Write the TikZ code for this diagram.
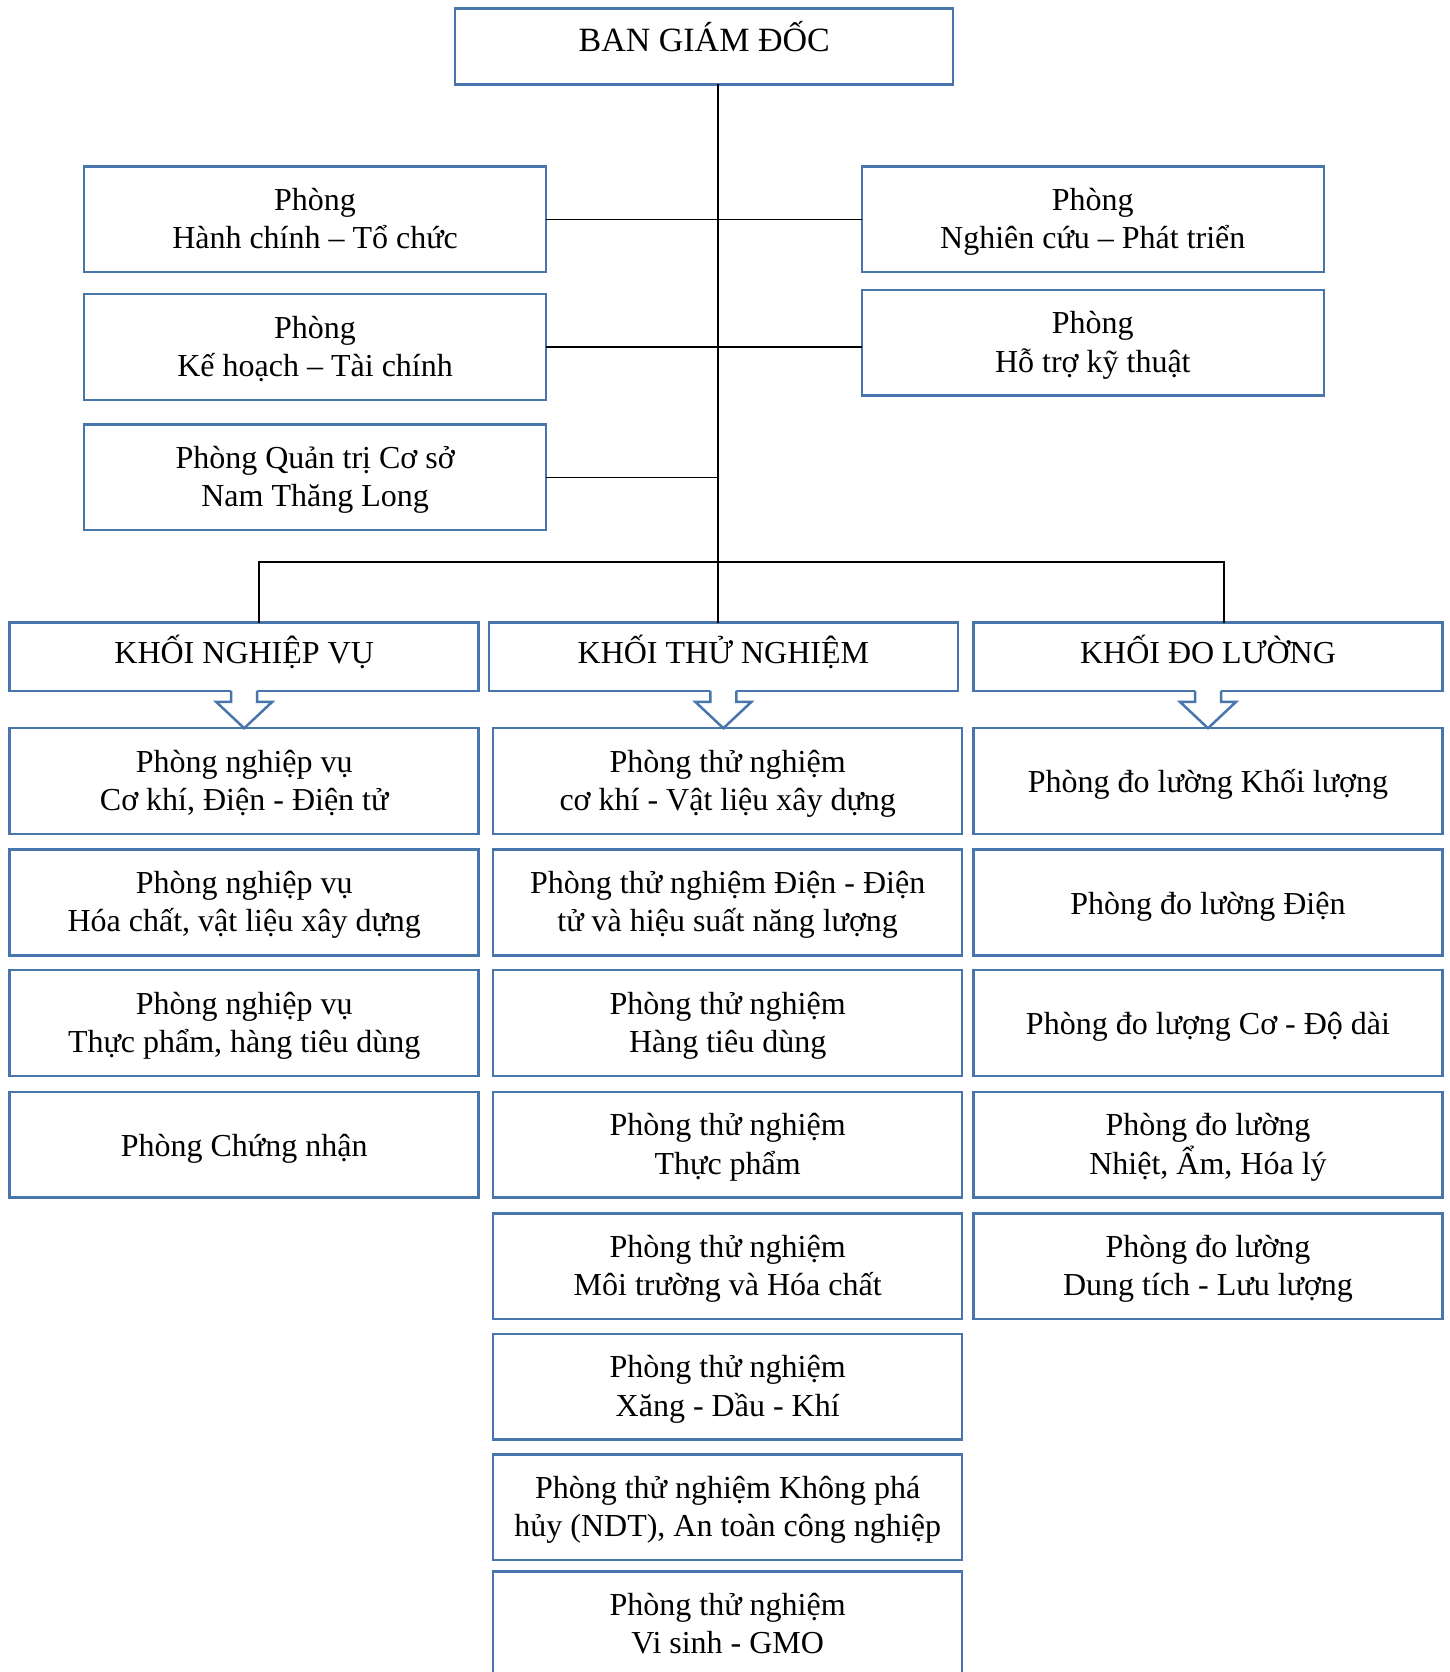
\documentclass[tikz,border=0pt]{standalone}
\usepackage{fontspec}
\setmainfont{Liberation Serif}
\usetikzlibrary{positioning, calc}
\definecolor{boxblue}{RGB}{72,118,172}
\newcommand{\topstrut}{\rule{0pt}{16.6pt}}
\newcommand{\tallstrut}{\rule{0pt}{34.4pt}}
\newcommand{\botstrut}{\rule[-5pt]{0pt}{5pt}}
\tikzset{
  box/.style={draw=boxblue, line width=1.25pt, fill=white, align=center, inner sep=0pt, outer sep=0pt, font=\fontsize{16}{19.2}\selectfont,
    execute at begin node=\topstrut, execute at end node=\botstrut},
  upbox/.style={box, minimum width=231pt, minimum height=52.8pt, execute at begin node=\tallstrut},
  lowbox/.style={box, minimum width=234.5pt, minimum height=52.8pt, execute at begin node=\tallstrut},
  onebox/.style={box, minimum width=234.5pt, minimum height=52.8pt},
  khoibox/.style={box, minimum width=234.5pt, minimum height=34.1pt, text height=12pt, text depth=5.4pt},
  topbox/.style={box, minimum width=249pt, minimum height=37.9pt, font=\fontsize{17}{20.4}\selectfont, text height=12pt, text depth=6.8pt},
  link/.style={line width=0.6pt},
  downarrow/.style={draw=boxblue, line width=1.25pt, line join=miter}
}

\begin{document}
\begin{tikzpicture}[x=0.5pt, y=-0.5pt]
\useasboundingbox (0,0) rectangle (1450,1672);
\clip (0,0) rectangle (1450,1672);

\node[topbox] (bgd) at (704.2, 46.4) {BAN GIÁM ĐỐC};

\node[upbox] (hc) at (315.1, 219.1) {Phòng\\Hành chính – Tổ chức};
\node[upbox] (kh) at (315.1, 347.0) {Phòng\\Kế hoạch – Tài chính};
\node[upbox] (qt) at (315.1, 477.1) {Phòng Quản trị Cơ sở\\Nam Thăng Long};
\node[upbox] (nc) at (1092.8, 219.1) {Phòng\\Nghiên cứu – Phát triển};
\node[upbox] (ht) at (1092.8, 342.8) {Phòng\\Hỗ trợ kỹ thuật};

\node[khoibox] (knv) at (244.2, 656.8) {KHỐI NGHIỆP VỤ};
\node[khoibox] (ktn) at (723.4, 656.8) {KHỐI THỬ NGHIỆM};
\node[khoibox] (kdl) at (1208, 656.8) {KHỐI ĐO LƯỜNG};

% khoi nghiep vu
\node[lowbox] (nv1) at (244.2, 781.0) {Phòng nghiệp vụ\\Cơ khí, Điện - Điện tử};
\node[lowbox] (nv2) at (244.2, 902.5) {Phòng nghiệp vụ\\Hóa chất, vật liệu xây dựng};
\node[lowbox] (nv3) at (244.2, 1023.0) {Phòng nghiệp vụ\\Thực phẩm, hàng tiêu dùng};
\node[onebox] (nv4) at (244.2, 1144.6) {Phòng Chứng nhận};

% khoi thu nghiem
\node[lowbox] (tn1) at (727.7, 781.0) {Phòng thử nghiệm\\cơ khí - Vật liệu xây dựng};
\node[lowbox] (tn2) at (727.7, 902.5) {Phòng thử nghiệm Điện - Điện\\tử và hiệu suất năng lượng};
\node[lowbox] (tn3) at (727.7, 1023.0) {Phòng thử nghiệm\\Hàng tiêu dùng};
\node[lowbox] (tn4) at (727.7, 1144.6) {Phòng thử nghiệm\\Thực phẩm};
\node[lowbox] (tn5) at (727.7, 1266.1) {Phòng thử nghiệm\\Môi trường và Hóa chất};
\node[lowbox] (tn6) at (727.7, 1386.6) {Phòng thử nghiệm\\Xăng - Dầu - Khí};
\node[lowbox] (tn7) at (727.7, 1507.1) {Phòng thử nghiệm Không phá\\hủy (NDT), An toàn công nghiệp};
\node[lowbox] (tn8) at (727.7, 1624.4) {Phòng thử nghiệm\\Vi sinh - GMO};

% khoi do luong
\node[onebox] (dl1) at (1208, 781.0) {Phòng đo lường Khối lượng};
\node[onebox] (dl2) at (1208, 902.5) {Phòng đo lường Điện};
\node[onebox] (dl3) at (1208, 1023.0) {Phòng đo lượng Cơ - Độ dài};
\node[lowbox] (dl4) at (1208, 1144.6) {Phòng đo lường\\Nhiệt, Ẩm, Hóa lý};
\node[lowbox] (dl5) at (1208, 1266.1) {Phòng đo lường\\Dung tích - Lưu lượng};

\coordinate (bus) at (718, 562);
\coordinate (busl) at (259, 562);
\coordinate (busr) at (1224, 562);

\draw[link] (bgd.south -| bus) -- (ktn.north -| bus);
\draw[link] (hc.east) -- (nc.west);
\draw[link] (kh.east) -- (kh.east -| ht.west);
\draw[link] (qt.east) -- (qt.east -| bus);
\draw[link] (knv.north -| busl) -- (busl) -- (busr) -- (kdl.north -| busr);

\foreach \a/\b in {knv/nv1, ktn/tn1, kdl/dl1} {
  \fill[white] ($(\a.south)+(-13,-2)$) -- ($(\a.south)+(-13,11)$) -- ($(\a.south)+(-28,11)$)
    -- (\a.south |- \b.north) -- ($(\a.south)+(28,11)$) -- ($(\a.south)+(13,11)$) -- ($(\a.south)+(13,-2)$) -- cycle;
  \draw[downarrow] ($(\a.south)+(-13,0)$) -- ($(\a.south)+(-13,11)$) -- ($(\a.south)+(-28,11)$)
    -- (\a.south |- \b.north) -- ($(\a.south)+(28,11)$) -- ($(\a.south)+(13,11)$) -- ($(\a.south)+(13,0)$);
}
\end{tikzpicture}
\end{document}
